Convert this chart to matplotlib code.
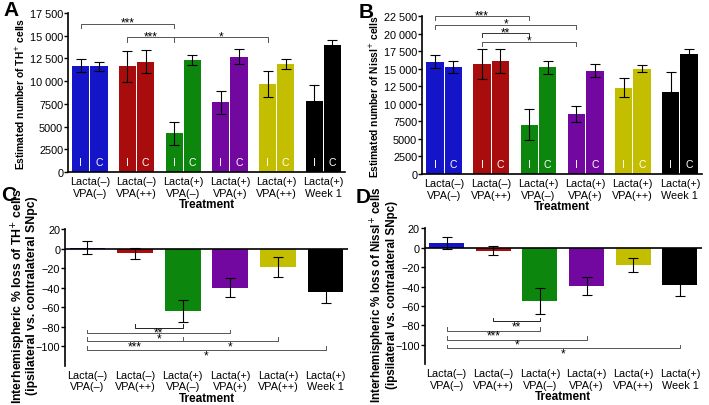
import numpy as np
import matplotlib.pyplot as plt

plt.rcParams['font.family'] = ['Liberation Sans', 'DejaVu Sans']

groups = ['Lacta(–)\nVPA(–)', 'Lacta(–)\nVPA(++)', 'Lacta(+)\nVPA(–)',
          'Lacta(+)\nVPA(+)', 'Lacta(+)\nVPA(++)', 'Lacta(+)\nWeek 1']
colors = ['#1414c8', '#a80c0c', '#0c860c', '#7208a0', '#c4be00', '#000000']

# panel A - TH+ cells, ipsilateral / contralateral
th_ipsi = [11700, 11650, 4250, 7650, 9700, 7800]
th_ipsi_err = [750, 1700, 1300, 1250, 1450, 1800]
th_contra = [11650, 12150, 12300, 12700, 11900, 14000]
th_contra_err = [500, 1250, 550, 850, 550, 500]

# panel B - Nissl+ cells
ni_ipsi = [16000, 15700, 7000, 8600, 12300, 11700]
ni_ipsi_err = [950, 2100, 2200, 1150, 1400, 2900]
ni_contra = [15300, 16100, 15200, 14700, 15000, 17100]
ni_contra_err = [850, 1650, 900, 950, 500, 750]

# panel C / D - interhemispheric % loss
th_loss = [1, -5, -64, -40, -19, -45]
th_loss_err = [7, 6, 11, 10, 10, 11]
ni_loss = [5, -3, -55, -39.5, -18, -38]
ni_loss_err = [6, 4.5, 13, 9.5, 7.5, 12]

# significance brackets: (start group, end group, y, label, mid tick group)
brA = [(0, 2, 16300, '***', None), (1, 4, 14850, None, 2)]
brA_lab = [(1, 2, 14850, '***'), (2, 4, 14850, '*')]
brB = [(0, 2, 22500, '***'), (0, 3, 21250, '*'), (1, 2, 20070, '**'), (1, 3, 18840, '*')]
brC = [(1, 2, -81, '**'), (0, 3, -87, '*'), (0, 4, -95, None), (0, 5, -104, '*')]
brC_lab = [(0, 2, -95, '***'), (2, 4, -95, '*')]
brD = [(1, 2, -76, '**'), (0, 2, -85.5, '***'), (0, 3, -95, '*'), (0, 5, -104, '*')]

x = np.arange(len(groups))
fig = plt.figure(figsize=(7.09, 4.06), dpi=100)
axA = fig.add_axes([0.0959, 0.574, 0.391, 0.3915])
axB = fig.add_axes([0.5952, 0.569, 0.395, 0.389])
axC = fig.add_axes([0.0917, 0.097, 0.399, 0.3365])
axD = fig.add_axes([0.599, 0.101, 0.391, 0.334])

ek = dict(ecolor='black', elinewidth=0.8, capsize=3.5, capthick=0.8)
star_fs = 8.5


def style(ax):
    for s in ['top', 'right']:
        ax.spines[s].set_visible(False)
    ax.spines['left'].set_linewidth(1.2)
    ax.spines['bottom'].set_linewidth(1.2)
    ax.tick_params(axis='y', labelsize=7.8, length=3, width=1, pad=0.5)
    ax.tick_params(axis='x', labelsize=7.8, length=0, pad=3)
    ax.set_xticks(x)
    ax.set_xticklabels(groups, linespacing=1.2)
    ax.set_xlim(-0.47, 5.47)
    ax.set_xlabel('Treatment', fontsize=8.5, fontweight='bold', labelpad=0.5)


def paired(ax, ipsi, ie, contra, ce, ymax):
    w = 0.37
    ax.bar(x - 0.195, ipsi, w, color=colors, yerr=ie, error_kw=ek)
    ax.bar(x + 0.195, contra, w, color=colors, yerr=ce, error_kw=ek)
    for i in range(len(x)):
        ax.text(x[i] - 0.195, ymax * 0.03, 'I', color='white', ha='center',
                va='bottom', fontsize=7.5)
        ax.text(x[i] + 0.195, ymax * 0.03, 'C', color='white', ha='center',
                va='bottom', fontsize=7.5)
    style(ax)
    ax.set_ylim(0, ymax)


def fmt(v):
    v = int(v)
    return f'{v // 1000} {v % 1000:03d}' if v >= 10000 else str(v)


def star(ax, xc, y, label, dy):
    ax.annotate(label, (xc, y), xytext=(0, dy), textcoords='offset points',
                ha='center', va='center', fontsize=star_fs,
                annotation_clip=False)


def bracket(ax, x1, x2, y, h, label=None, lc='#555555', mid=None, dy=0.8):
    ax.plot([x1, x1, x2, x2], [y + h, y, y, y + h], color=lc, lw=0.7,
            clip_on=False)
    if mid is not None:
        ax.plot([mid, mid], [y, y + h], color=lc, lw=0.7, clip_on=False)
    if label:
        star(ax, (x1 + x2) / 2, y, label, dy)


# A
paired(axA, th_ipsi, th_ipsi_err, th_contra, th_contra_err, 17500)
axA.set_yticks(np.arange(0, 17501, 2500))
axA.set_yticklabels([fmt(v) for v in np.arange(0, 17501, 2500)])
axA.set_ylabel('Estimated number of TH$^{+}$ cells', fontsize=7.4,
               fontweight='bold', labelpad=2)
for x1, x2, y, lab, mid in brA:
    bracket(axA, x[x1] - 0.195, x[x2] - 0.195, y, -500, lab,
            mid=None if mid is None else x[mid] - 0.195)
for x1, x2, y, lab in brA_lab:
    star(axA, (x[x1] + x[x2]) / 2 - 0.195, y, lab, 0.8)

# B
paired(axB, ni_ipsi, ni_ipsi_err, ni_contra, ni_contra_err, 22500)
axB.set_yticks(np.arange(0, 22501, 2500))
axB.set_yticklabels([fmt(v) for v in np.arange(0, 22501, 2500)])
axB.set_ylabel('Estimated number of Nissl$^{+}$ cells', fontsize=7.4,
               fontweight='bold', labelpad=2)
for x1, x2, y, lab in brB:
    bracket(axB, x[x1] - 0.195, x[x2] - 0.195, y, -550, lab,
            lc='#333333' if lab == '**' else '#555555', dy=0.8)


def loss(ax, vals, err, ylab, lx, fs):
    ax.bar(x, vals, 0.75, color=colors, yerr=err, error_kw=ek)
    style(ax)
    ax.spines['bottom'].set_visible(False)
    ax.axhline(0, color='black', lw=1.2)
    ax.set_ylim(-120, 20)
    ax.set_yticks([20, 0, -20, -40, -60, -80, -100])
    ax.set_yticklabels(['20', '0', '−20', '−40', '−60', '−80', '−100'])
    ax.set_ylabel(ylab, fontsize=fs, fontweight='bold', linespacing=0.8)
    ax.yaxis.set_label_coords(lx, 0.517)


# C
loss(axC, th_loss, th_loss_err,
     'Interhemispheric % loss of TH$^{+}$ cells\n(ipsilateral vs. contralateral SNpc)',
     -0.095, 8.8)
for x1, x2, y, lab in brC:
    bracket(axC, x[x1], x[x2], y, 4, lab,
            lc='#222222' if lab == '**' else '#555555',
            mid=x[2] if lab is None else None, dy=-3.7)
for x1, x2, y, lab in brC_lab:
    star(axC, (x[x1] + x[x2]) / 2, y, lab, -3.7)

# D
loss(axD, ni_loss, ni_loss_err,
     'Interhemispheric % loss of Nissl$^{+}$ cells\n(ipsilateral vs. contralateral SNpc)',
     -0.098, 8.4)
for x1, x2, y, lab in brD:
    bracket(axD, x[x1], x[x2], y, 4, lab,
            lc='#222222' if lab == '**' else '#555555', dy=-3.7)

fig.text(0.0056, 0.997, 'A', fontsize=15, fontweight='bold', va='top')
fig.text(0.506, 0.993, 'B', fontsize=15, fontweight='bold', va='top')
fig.text(0.0014, 0.542, 'C', fontsize=15, fontweight='bold', va='top')
fig.text(0.502, 0.537, 'D', fontsize=15, fontweight='bold', va='top')

fig.savefig('out.png', dpi=100)
